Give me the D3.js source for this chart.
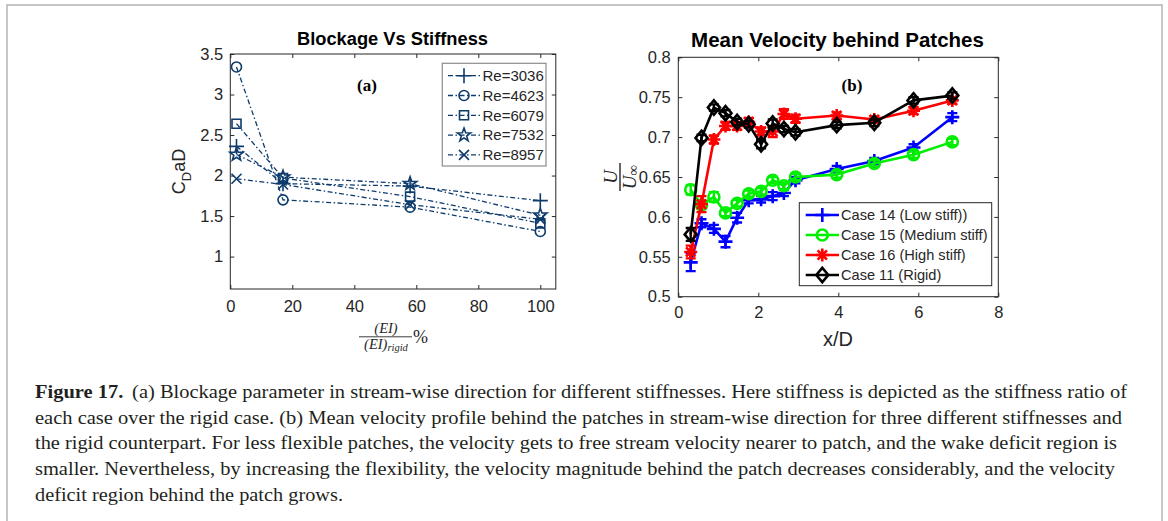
<!DOCTYPE html>
<html><head><meta charset="utf-8">
<script src="https://cdn.jsdelivr.net/npm/d3@7"></script>
<style>body{margin:0;background:#fff}svg{display:block}</style>
</head><body><svg id="c" width="1168" height="521"></svg>
<script>
// ---------- data: panel (a) ----------
const stiffPct = [2, 17, 58, 100];
const reLabels = ["Re=3036", "Re=4623", "Re=6079", "Re=7532", "Re=8957"];
const cdRe3036 = [2.36, 1.90, 1.87, 1.69];
const cdRe4623 = [3.34, 1.70, 1.61, 1.31];
const cdRe6079 = [2.64, 1.97, 1.74, 1.41];
const cdRe7532 = [2.26, 1.98, 1.90, 1.51];
const cdRe8957 = [1.96, 1.89, 1.64, 1.46];
const leftXTicks = [0, 20, 40, 60, 80, 100];
const leftYTicks = [1, 1.5, 2, 2.5, 3, 3.5];

// ---------- data: panel (b) ----------
const xD = [0.31, 0.58, 0.89, 1.18, 1.47, 1.76, 2.07, 2.36, 2.64, 2.93, 3.96, 4.90, 5.88, 6.85];
const caseLabels = ["Case 14 (Low stiff))", "Case 15 (Medium stiff)", "Case 16 (High stiff)", "Case 11 (Rigid)"];
const uCase14 = [0.543, 0.592, 0.585, 0.569, 0.599, 0.621, 0.622, 0.626, 0.630, 0.646, 0.660, 0.670, 0.687, 0.725];
const uCase15 = [0.634, 0.615, 0.625, 0.605, 0.617, 0.629, 0.632, 0.646, 0.639, 0.650, 0.653, 0.667, 0.678, 0.694];
const uCase16 = [0.556, 0.616, 0.697, 0.714, 0.714, 0.719, 0.707, 0.707, 0.729, 0.723, 0.727, 0.722, 0.733, 0.746];
const uCase11 = [0.578, 0.699, 0.737, 0.730, 0.719, 0.716, 0.691, 0.717, 0.710, 0.706, 0.715, 0.718, 0.746, 0.752];
const errCase14 = [0.011, 0.005, 0.005, 0.007, 0.006, 0.004, 0.004, 0.005, 0.004, 0.004, 0.004, 0.004, 0.004, 0.005];
const errCase15 = [0.006, 0.005, 0.006, 0.004, 0.004, 0.004, 0.004, 0.004, 0.004, 0.004, 0.004, 0.004, 0.004, 0.004];
const errCase16 = [0.008, 0.010, 0.005, 0.005, 0.005, 0.005, 0.005, 0.007, 0.006, 0.005, 0.004, 0.004, 0.004, 0.004];
const errCase11 = [0.008, 0.004, 0.004, 0.004, 0.004, 0.004, 0.005, 0.005, 0.004, 0.004, 0.004, 0.004, 0.004, 0.004];
const rightXTicks = [0, 2, 4, 6, 8];
const rightYTicks = [0.5, 0.55, 0.6, 0.65, 0.7, 0.75, 0.8];

// ---------- caption ----------
const captionLines = [
  "each case over the rigid case. (b) Mean velocity profile behind the patches in stream-wise direction for three different stiffnesses and",
  "the rigid counterpart. For less flexible patches, the velocity gets to free stream velocity nearer to patch, and the wake deficit region is",
  "smaller. Nevertheless, by increasing the flexibility, the velocity magnitude behind the patch decreases considerably, and the velocity",
  "deficit region behind the patch grows."
];
const captionFirstBold = "Figure 17.";
const captionFirstRest = "(a) Blockage parameter in stream-wise direction for different stiffnesses. Here stiffness is depicted as the stiffness ratio of";

const svg = d3.select("#c");
svg.append("rect").attr("width", 1168).attr("height", 521).attr("fill", "#fff");
svg.append("rect").attr("x", 7).attr("y", 5).attr("width", 1155).attr("height", 540)
  .attr("fill", "none").attr("stroke", "#b4b4b4").attr("stroke-width", 1.5);

const SANS = "'Liberation Sans', Arial, Helvetica, sans-serif";
const SERIF = "'Liberation Serif', 'Times New Roman', serif";
const AX = "#262626";

function marker(g, type, x, y, s, color, sw) {
  let p;
  if (type === "plus") {
    p = `M${x - s},${y}H${x + s}M${x},${y - s}V${y + s}`;
  } else if (type === "x") {
    p = `M${x - s},${y - s}L${x + s},${y + s}M${x - s},${y + s}L${x + s},${y - s}`;
  } else if (type === "aster") {
    const d = s * 0.72;
    p = `M${x - s},${y}H${x + s}M${x},${y - s}V${y + s}M${x - d},${y - d}L${x + d},${y + d}M${x - d},${y + d}L${x + d},${y - d}`;
  } else if (type === "square") {
    p = `M${x - s},${y - s}H${x + s}V${y + s}H${x - s}Z`;
  } else if (type === "diamond") {
    p = `M${x},${y - s * 1.2}L${x + s},${y}L${x},${y + s * 1.2}L${x - s},${y}Z`;
  } else if (type === "star") {
    const pts = [];
    for (let i = 0; i < 10; i++) {
      const r = i % 2 === 0 ? s : s * 0.4;
      const a = -Math.PI / 2 + i * Math.PI / 5;
      pts.push([x + r * Math.cos(a), y + r * Math.sin(a)]);
    }
    p = "M" + pts.map(q => q.join(",")).join("L") + "Z";
  }
  if (type === "circle") {
    g.append("circle").attr("cx", x).attr("cy", y).attr("r", s)
      .attr("fill", "none").attr("stroke", color).attr("stroke-width", sw);
  } else {
    g.append("path").attr("d", p).attr("fill", "none").attr("stroke", color)
      .attr("stroke-width", sw).attr("stroke-linejoin", "miter");
  }
}

function boxAxes(g, x, y, xt, yt, xfmt, yfmt, fs, ypad, xpad) {
  const [x0, x1] = x.range(), [y0, y1] = y.range();
  const ax = (sel) => {
    sel.select(".domain").remove();
    sel.selectAll("line").attr("stroke", AX);
    sel.selectAll("text").attr("fill", AX).attr("font-family", SANS).attr("font-size", fs);
  };
  g.append("g").attr("transform", `translate(0,${y0})`)
    .call(d3.axisBottom(x).tickValues(xt).tickFormat(xfmt).tickSizeInner(-4).tickSizeOuter(0).tickPadding(xpad)).call(ax);
  g.append("g").attr("transform", `translate(0,${y1})`)
    .call(d3.axisTop(x).tickValues(xt).tickFormat("").tickSizeInner(-4).tickSizeOuter(0)).call(ax);
  g.append("g").attr("transform", `translate(${x0},0)`)
    .call(d3.axisLeft(y).tickValues(yt).tickFormat(yfmt).tickSizeInner(-4).tickSizeOuter(0).tickPadding(ypad)).call(ax);
  g.append("g").attr("transform", `translate(${x1},0)`)
    .call(d3.axisRight(y).tickValues(yt).tickFormat("").tickSizeInner(-4).tickSizeOuter(0)).call(ax);
  g.append("rect").attr("x", x0).attr("y", y1).attr("width", x1 - x0).attr("height", y0 - y1)
    .attr("fill", "none").attr("stroke", AX).attr("stroke-width", 1);
}

// ================= Panel (a) =================
{
  const g = svg.append("g");
  const x = d3.scaleLinear().domain([0, 105]).range([230.3, 555.8]);
  const y = d3.scaleLinear().domain([0.6, 3.5]).range([289, 54]);
  const navy = "#0d3b6c";
  const series = [cdRe3036, cdRe4623, cdRe6079, cdRe7532, cdRe8957];
  const marks = ["plus", "circle", "square", "star", "x"];
  const msz = {plus: 7.5, circle: 5, square: 4.5, star: 7, x: 5};
  const dash = "5,2.5,1.5,2.5";
  const line = d3.line().x((d, i) => x(stiffPct[i])).y(d => y(d));

  boxAxes(g, x, y, leftXTicks, leftYTicks, d3.format("d"), d3.format("~g"), 16.5, 7, 11);

  series.forEach((s, k) => {
    g.append("path").datum(s).attr("d", line).attr("fill", "none")
      .attr("stroke", navy).attr("stroke-width", 1.3).attr("stroke-dasharray", dash);
    s.forEach((v, i) => marker(g, marks[k], x(stiffPct[i]), y(v), msz[marks[k]], navy, 1.6));
  });

  g.append("text").attr("x", 392.5).attr("y", 44.5).attr("text-anchor", "middle")
    .attr("font-family", SANS).attr("font-weight", "bold").attr("font-size", 18.3).attr("fill", "#000")
    .text("Blockage Vs Stiffness");
  g.append("text").attr("x", 367).attr("y", 91).attr("text-anchor", "middle")
    .attr("font-family", SERIF).attr("font-weight", "bold").attr("font-size", 17).attr("fill", "#000")
    .text("(a)");

  // legend
  const lg = g.append("g");
  lg.append("rect").attr("x", 442.3).attr("y", 63.3).attr("width", 103.7).attr("height", 102.7)
    .attr("fill", "#fff").attr("stroke", "#8c8c8c").attr("stroke-width", 1.2);
  reLabels.forEach((lab, k) => {
    const yy = 75.7 + k * 19.8;
    lg.append("line").attr("x1", 448).attr("x2", 480).attr("y1", yy).attr("y2", yy)
      .attr("stroke", navy).attr("stroke-width", 1.3).attr("stroke-dasharray", dash);
    marker(lg, marks[k], 464, yy, msz[marks[k]], navy, 1.6);
    lg.append("text").attr("x", 482.5).attr("y", yy + 5.3).attr("font-family", SANS)
      .attr("font-size", 15).attr("fill", AX).text(lab);
  });

  // y label C_D aD
  const yl = g.append("text").attr("transform", "translate(185,171.5) rotate(-90)")
    .attr("text-anchor", "middle").attr("font-family", SANS).attr("font-size", 18).attr("fill", AX);
  yl.append("tspan").text("C");
  yl.append("tspan").attr("font-size", 13).attr("dy", 5.5).text("D");
  yl.append("tspan").attr("dy", -5.5).text("aD");

  // x label fraction
  const xl = g.append("g").attr("font-family", SERIF).attr("fill", AX);
  xl.append("text").attr("x", 386).attr("y", 333).attr("text-anchor", "middle")
    .attr("font-size", 14.5).attr("font-style", "italic").text("(EI)");
  xl.append("line").attr("x1", 359).attr("x2", 412).attr("y1", 336.8).attr("y2", 336.8)
    .attr("stroke", AX).attr("stroke-width", 0.9);
  const den = xl.append("text").attr("x", 386).attr("y", 348.5).attr("text-anchor", "middle")
    .attr("font-size", 14.5).attr("font-style", "italic");
  den.append("tspan").text("(EI)");
  den.append("tspan").attr("font-size", 10.5).attr("dy", 2).text("rigid");
  xl.append("text").attr("x", 413).attr("y", 343).attr("font-size", 18).text("%");
}

// ================= Panel (b) =================
{
  const g = svg.append("g");
  const x = d3.scaleLinear().domain([0, 8]).range([678.3, 998.3]);
  const y = d3.scaleLinear().domain([0.5, 0.8]).range([296.7, 57.3]);
  boxAxes(g, x, y, rightXTicks, rightYTicks, d3.format("d"), d3.format("~g"), 16.5, 7.5, 10);

  const series = [uCase14, uCase15, uCase16, uCase11];
  const errs = [errCase14, errCase15, errCase16, errCase11];
  const colors = ["#0000ff", "#00ee00", "#ff0000", "#000000"];
  const marks = ["plus", "circle", "aster", "diamond"];
  const msz = {plus: 7, circle: 5.5, aster: 6.5, diamond: 6};
  const line = d3.line().x((d, i) => x(xD[i])).y(d => y(d));

  series.forEach((s, k) => {
    const c = colors[k];
    g.append("path").datum(s).attr("d", line).attr("fill", "none")
      .attr("stroke", c).attr("stroke-width", 2.6).attr("stroke-linejoin", "round");
    s.forEach((v, i) => {
      const e = errs[k][i], xx = x(xD[i]);
      const ya = y(v - e), yb = y(v + e);
      g.append("path").attr("d", `M${xx},${ya}V${yb}M${xx - 5},${ya}H${xx + 5}M${xx - 5},${yb}H${xx + 5}`)
        .attr("fill", "none").attr("stroke", c).attr("stroke-width", 2.4);
      marker(g, marks[k], xx, y(v), msz[marks[k]], c, 2.6);
    });
  });

  g.append("text").attr("x", 837.5).attr("y", 47).attr("text-anchor", "middle")
    .attr("font-family", SANS).attr("font-weight", "bold").attr("font-size", 20.5).attr("fill", "#000")
    .text("Mean Velocity behind Patches");
  g.append("text").attr("x", 852).attr("y", 90.5).attr("text-anchor", "middle")
    .attr("font-family", SERIF).attr("font-weight", "bold").attr("font-size", 17).attr("fill", "#000")
    .text("(b)");

  g.append("text").attr("x", 838).attr("y", 345.5).attr("text-anchor", "middle")
    .attr("font-family", SANS).attr("font-size", 20).attr("fill", AX).text("x/D");

  // y label U / U_inf
  const yl = g.append("g").attr("transform", "translate(620,177) rotate(-90)")
    .attr("font-family", SERIF).attr("fill", AX).attr("font-style", "italic");
  yl.append("text").attr("x", 0).attr("y", -3.5).attr("text-anchor", "middle").attr("font-size", 19).text("U");
  yl.append("line").attr("x1", -14).attr("x2", 14).attr("y1", 0).attr("y2", 0)
    .attr("stroke", AX).attr("stroke-width", 1.4);
  const dn = yl.append("text").attr("x", 0).attr("y", 15.5).attr("text-anchor", "middle").attr("font-size", 19);
  dn.append("tspan").text("U");
  dn.append("tspan").attr("font-size", 15).attr("font-style", "normal").attr("dy", 2).text("∞");

  // legend
  const lg = g.append("g");
  lg.append("rect").attr("x", 799.3).attr("y", 202.7).attr("width", 192.4).attr("height", 83)
    .attr("fill", "#fff").attr("stroke", AX).attr("stroke-width", 1);
  caseLabels.forEach((lab, k) => {
    const yy = 215 + k * 20;
    lg.append("line").attr("x1", 805.7).attr("x2", 839).attr("y1", yy).attr("y2", yy)
      .attr("stroke", colors[k]).attr("stroke-width", 2.6);
    marker(lg, marks[k], 822.3, yy, msz[marks[k]], colors[k], 2.6);
    lg.append("text").attr("x", 841).attr("y", yy + 5.3).attr("font-family", SANS)
      .attr("font-size", 14.6).attr("fill", AX).text(lab);
  });
}

// ================= Caption =================
{
  const g = svg.append("g").attr("font-family", SERIF).attr("fill", "#231f20").attr("font-size", 18.5);
  const t0 = g.append("text").attr("x", 35).attr("y", 398)
    .attr("textLength", 1092).attr("lengthAdjust", "spacingAndGlyphs");
  t0.append("tspan").attr("font-weight", "bold").text(captionFirstBold);
  t0.append("tspan").attr("dx", 8).text(captionFirstRest);
  const ends = [1122, 1117, 1115, 343];
  captionLines.forEach((s, i) => {
    g.append("text").attr("x", 35).attr("y", 423.6 + i * 25.7)
      .attr("textLength", ends[i] - 35).attr("lengthAdjust", "spacingAndGlyphs").text(s);
  });
}
</script></body></html>
